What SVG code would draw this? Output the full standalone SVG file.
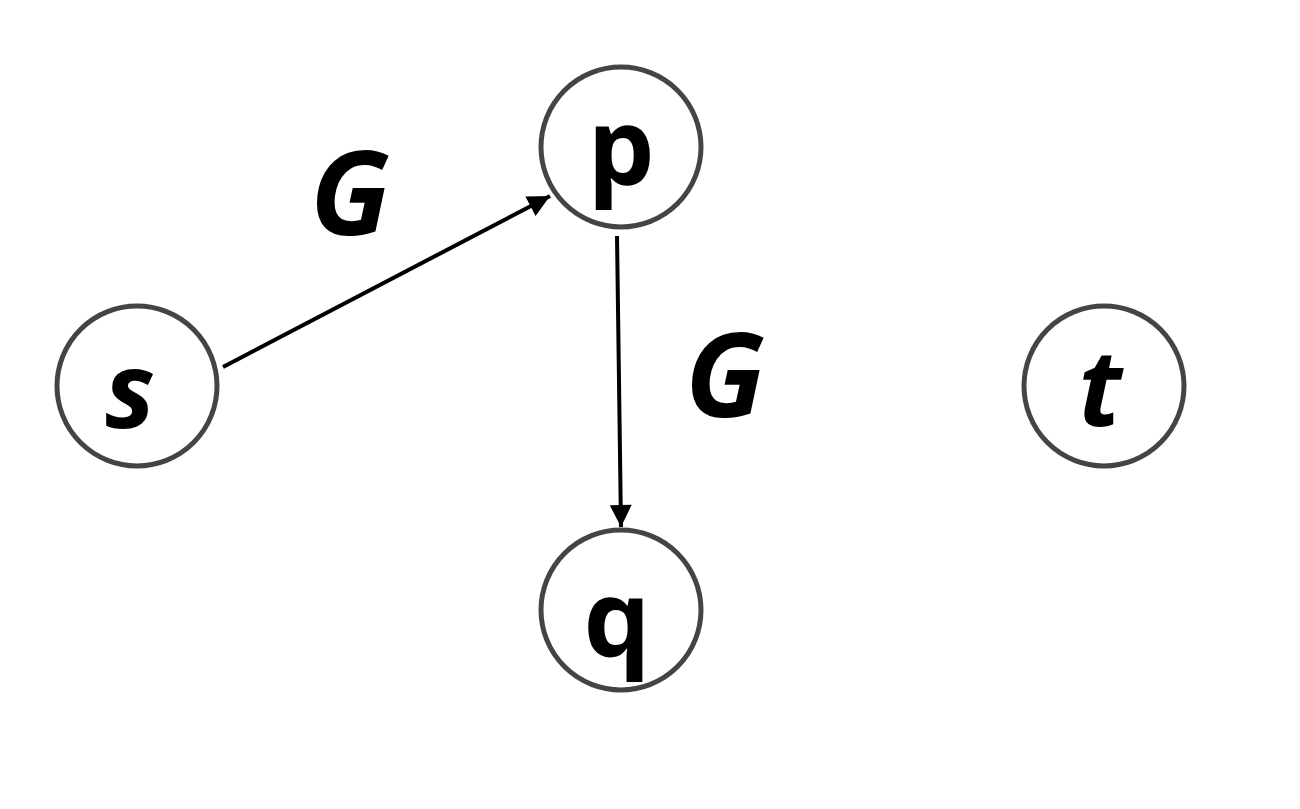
<svg xmlns="http://www.w3.org/2000/svg" width="1300" height="809" viewBox="0 0 1300 809">
<style>
.node circle{fill:#fff;stroke:#444;stroke-width:5}
.lbl{font-family:"Open Sans","Noto Sans","Liberation Sans",sans-serif;font-weight:700;font-size:106px;fill:#000;text-anchor:middle}
.it{font-style:italic}
.edge{stroke:#000;stroke-width:4;fill:none}
</style>
<defs>
<marker id="ah" viewBox="0 0 10 10" refX="10" refY="5" markerWidth="6.5" markerHeight="5.5" markerUnits="strokeWidth" orient="auto">
<path d="M0,0 L10,5 L0,10 z" fill="#000"/>
</marker>
</defs>
<rect width="1300" height="809" fill="#fff"/>
<g id="connectors">
<line class="edge" x1="223" y1="367" x2="550" y2="196" marker-end="url(#ah)"/>
<line class="edge" x1="617" y1="236" x2="621" y2="527" marker-end="url(#ah)"/>
<text class="lbl it" x="350" y="235" style="font-size:116px">G</text>
<text class="lbl it" x="725" y="417" style="font-size:116px">G</text>
</g>
<g id="node-s" class="node"><circle cx="137" cy="386" r="80"/><text class="lbl it" x="130" y="428">s</text></g>
<g id="node-p" class="node"><circle cx="621" cy="147" r="80"/><text class="lbl" x="621" y="185">p</text></g>
<g id="node-q" class="node"><circle cx="621" cy="610" r="80"/><text class="lbl" x="617" y="657">q</text></g>
<g id="node-t" class="node"><circle cx="1104" cy="386" r="80"/><text class="lbl it" x="1100" y="426">t</text></g>
</svg>
